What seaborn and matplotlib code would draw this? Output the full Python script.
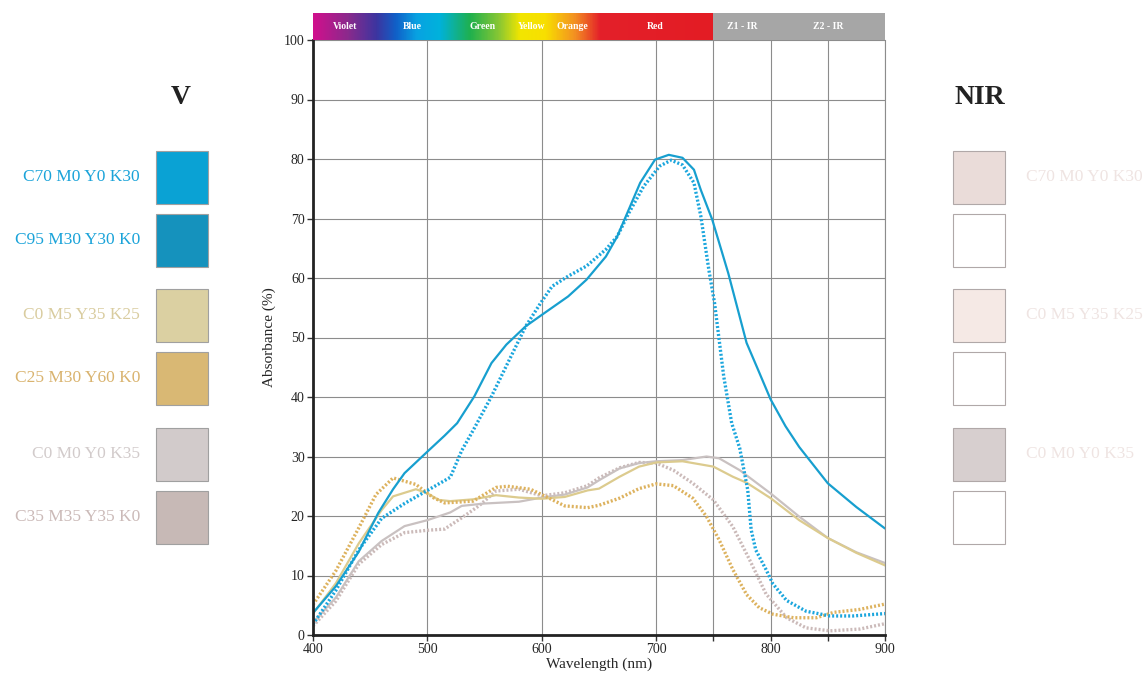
import numpy as np
import pandas as pd
import matplotlib.pyplot as plt
import seaborn as sns
from matplotlib.colors import LinearSegmentedColormap
from matplotlib.patches import Rectangle

# absorbance curves (wavelength nm, absorbance %)
blue_solid_wl = [400, 420, 440, 457, 470, 480, 501, 515, 526, 541, 556, 569, 586, 600, 623, 639,
                 656, 666, 676, 686, 699, 711, 723, 733, 739, 749, 763, 779, 789, 800, 813, 825,
                 850, 875, 900]
blue_solid = [3.7, 8.2, 14.0, 20.5, 24.5, 27.2, 31.0, 33.5, 35.6, 40.1, 45.7, 48.8, 51.9, 53.8, 56.9, 59.7,
              63.6, 67.0, 71.5, 76.0, 79.9, 80.7, 80.2, 78.2, 74.8, 69.8, 60.8, 49.1, 44.6, 39.6, 35.1, 31.6,
              25.5, 21.5, 17.9]

blue_dot_wl = [400, 420, 440, 460, 480, 500, 520, 530, 540, 556, 573, 586, 599, 609, 623, 639, 656,
               666, 676, 689, 703, 713, 723, 733, 739, 746, 751, 759, 766, 773, 780, 783, 787, 796,
               802, 814, 831, 852, 872, 900]
blue_dot = [1.8, 7.5, 14.3, 19.6, 22.1, 24.3, 26.5, 31.0, 34.4, 40.1, 46.8, 51.9, 55.8, 58.6, 60.3, 62.0, 64.8,
            67.0, 70.9, 75.4, 78.8, 79.8, 79.0, 76.0, 70.4, 61.4, 55.8, 43.5, 35.6, 31.4, 24.4, 17.7, 14.3, 11.0,
            8.6, 5.8, 4.0, 3.2, 3.2, 3.6]

gold_solid_wl = [400, 420, 440, 460, 470, 490, 500, 510, 520, 540, 560, 580, 600, 620, 640, 650, 668,
                 685, 700, 723, 750, 767, 779, 800, 825, 850, 875, 900]
gold_solid = [3.6, 8.7, 15.4, 21.0, 23.3, 24.5, 23.8, 22.7, 22.5, 22.8, 23.5, 23.1, 22.9, 23.2, 24.3, 24.6, 26.6,
              28.3, 29.0, 29.2, 28.3, 26.6, 25.6, 23.0, 19.3, 16.3, 13.8, 11.7]

gold_dot_wl = [400, 420, 440, 455, 470, 490, 505, 515, 540, 560, 570, 590, 600, 620, 640, 650, 668, 685,
               700, 715, 732, 744, 755, 767, 779, 790, 802, 820, 840, 855, 878, 900]
gold_dot = [5.1, 10.8, 18.0, 23.6, 26.4, 25.3, 23.1, 22.2, 22.5, 24.8, 25.0, 24.5, 23.6, 21.7, 21.4, 21.8, 23.0, 24.6,
            25.4, 25.1, 23.0, 19.9, 16.0, 11.0, 6.8, 4.6, 3.5, 2.9, 2.9, 3.8, 4.3, 5.2]

grey_solid_wl = [400, 420, 440, 460, 480, 500, 520, 530, 550, 580, 600, 620, 640, 650, 668, 685, 700,
                 723, 744, 755, 773, 800, 825, 850, 875, 900]
grey_solid = [2.1, 6.3, 12.4, 15.8, 18.3, 19.3, 20.6, 21.7, 22.1, 22.4, 23.1, 23.6, 24.8, 26.0, 28.0, 28.9, 29.2,
              29.4, 30.0, 29.7, 27.7, 23.8, 19.9, 16.3, 13.9, 12.1]

grey_dot_wl = [400, 420, 440, 460, 480, 500, 515, 530, 545, 560, 580, 600, 620, 640, 650, 668, 685, 700,
               715, 732, 750, 767, 782, 796, 814, 831, 852, 878, 900]
grey_dot = [1.5, 5.7, 11.9, 15.2, 17.2, 17.6, 17.8, 19.7, 21.7, 24.2, 24.5, 23.4, 23.9, 25.1, 26.4, 28.1, 29.0, 28.9,
            27.7, 25.5, 22.7, 18.2, 12.5, 6.9, 2.9, 1.2, 0.7, 1.0, 1.9]

# legend swatches
v_labels = ["C70 M0 Y0 K30", "C95 M30 Y30 K0", "C0 M5 Y35 K25", "C25 M30 Y60 K0", "C0 M0 Y0 K35", "C35 M35 Y35 K0"]
v_colors = ["#0aa2d4", "#1592bd", "#dbd0a2", "#d9b874", "#d2cbcb", "#c7b9b6"]
v_text_colors = ["#1aa3d9", "#1aa3d9", "#d9cc9f", "#d9b36e", "#d2cbcb", "#cbbab8"]
nir_labels = ["C70 M0 Y0 K30", "", "C0 M5 Y35 K25", "", "C0 M0 Y0 K35", ""]
nir_colors = ["#eadcd9", "#ffffff", "#f5e9e5", "#ffffff", "#d7cfcf", "#ffffff"]

# spectrum strip
band_labels = ["Violet", "Blue", "Green", "Yellow", "Orange", "Red", "Z1 - IR", "Z2 - IR"]
band_pos = [428, 487, 548, 591, 627, 699, 775, 850]

sns.set_style("white")
plt.rcParams['font.family'] = ['Liberation Serif', 'DejaVu Serif']

fig = plt.figure(figsize=(11.46, 6.75), dpi=100)
ax = fig.add_axes([313 / 1146, 40 / 675, 572 / 1146, 595 / 675])

series = [
    (grey_dot_wl, grey_dot, "#cbbab9", True),
    (grey_solid_wl, grey_solid, "#c9c1c1", False),
    (gold_solid_wl, gold_solid, "#dccb8e", False),
    (gold_dot_wl, gold_dot, "#ddb25e", True),
    (blue_dot_wl, blue_dot, "#1ba6dd", True),
    (blue_solid_wl, blue_solid, "#179fcf", False),
]
for wl, val, col, dotted in series:
    df = pd.DataFrame({"wl": wl, "abs": val})
    if dotted:
        sns.lineplot(data=df, x="wl", y="abs", ax=ax, color=col, lw=2.4,
                     linestyle=(0, (0.6, 0.6)), dash_capstyle="butt")
    else:
        sns.lineplot(data=df, x="wl", y="abs", ax=ax, color=col, lw=1.6)

ax.set_xlim(400, 900)
ax.set_ylim(0, 100)
ax.set_xticks(range(400, 901, 100))
ax.set_xticks([750, 850], minor=True)
ax.set_yticks(range(0, 101, 10))
ax.grid(True, which="both", color="#8c8c8c", lw=0.8)
ax.set_axisbelow(True)
ax.tick_params(axis="both", which="both", direction="out", length=4, width=1, color="#333333",
               labelsize=10, pad=2, bottom=True, left=True)
ax.set_xlabel("Wavelength (nm)", fontsize=11, labelpad=1)
ax.set_ylabel("Absorbance (%)", fontsize=11, labelpad=6)
for s in ["left", "bottom"]:
    ax.spines[s].set_color("#222222")
    ax.spines[s].set_linewidth(2)
ax.spines["top"].set_visible(False)
ax.spines["right"].set_color("#8c8c8c")
ax.spines["right"].set_linewidth(0.8)

# spectrum strip above the plot
bax = fig.add_axes([313 / 1146, 40 / 675 + 595 / 675, 572 / 1146, 27 / 675])
stops = [(400, "#d0108c"), (430, "#8a2a8c"), (455, "#3c35a0"), (472, "#1060c8"), (490, "#08a2e2"),
         (510, "#00b2dc"), (537, "#1fb04e"), (563, "#8cc832"), (581, "#f2e600"), (603, "#f8df00"),
         (629, "#f39022"), (651, "#e4202a"), (750, "#e31c24")]
cmap = LinearSegmentedColormap.from_list("spec", [((w - 400) / 350, c) for w, c in stops])
grad = np.linspace(0, 1, 700).reshape(1, -1)
bax.imshow(grad, cmap=cmap, aspect="auto", extent=[400, 750, 0, 1])
bax.add_patch(Rectangle((750, 0), 150, 1, color="#a6a6a6", lw=0))
bax.set_xlim(400, 900)
bax.set_ylim(0, 1)
bax.axis("off")
for lab, p in zip(band_labels, band_pos):
    bax.text(p, 0.5, lab, color="white", fontsize=7, fontweight="bold", ha="center", va="center")

# side swatches
sw_y = [177, 240, 315, 378, 454, 517]
W, H = 1146, 675
fig.text(181 / W, 1 - 97 / H, "V", fontsize=20, fontweight="bold", ha="center", va="center", color="#222222")
fig.text(980 / W, 1 - 97 / H, "NIR", fontsize=20, fontweight="bold", ha="center", va="center", color="#222222")
for yc, lab, col, tcol in zip(sw_y, v_labels, v_colors, v_text_colors):
    fig.patches.append(Rectangle((156 / W, 1 - (yc + 26.5) / H), 52 / W, 53 / H, transform=fig.transFigure,
                                 facecolor=col, edgecolor="#a0a0a0", lw=0.8))
    fig.text(140 / W, 1 - yc / H, lab, fontsize=12.5, color=tcol, ha="right", va="center")
for yc, lab, col in zip(sw_y, nir_labels, nir_colors):
    fig.patches.append(Rectangle((953 / W, 1 - (yc + 26.5) / H), 52 / W, 53 / H, transform=fig.transFigure,
                                 facecolor=col, edgecolor="#b0a8a8", lw=0.8))
    fig.text(1026 / W, 1 - yc / H, lab, fontsize=12.5, color="#efe4e2", ha="left", va="center")

fig.savefig("out.png", dpi=100)
